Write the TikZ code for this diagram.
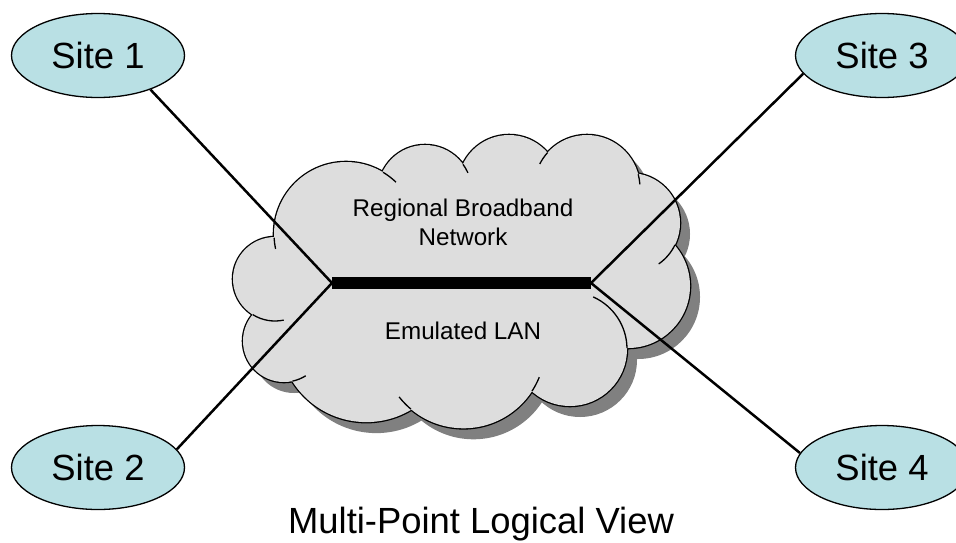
\documentclass[tikz,border=0pt]{standalone}
\usepackage{fontspec}
\setmainfont{Liberation Sans}
\usetikzlibrary{shapes.geometric}
\definecolor{cloudfill}{RGB}{221,221,221}
\definecolor{cloudshadow}{RGB}{128,128,128}
\definecolor{sitefill}{RGB}{185,224,228}
\begin{document}
\begin{tikzpicture}[x=0.5pt,y=-0.5pt,
  sitebox/.style={ellipse, draw=black, line width=0.65pt, fill=sitefill,
    minimum width=86.5pt, minimum height=42pt, inner sep=0pt,
    font=\fontsize{18.2}{22}\selectfont},
  link/.style={line width=1.25pt, black},
  lanbar/.style={line width=5.8pt, black},
  cloudtext/.style={inner sep=0pt, font=\fontsize{12.1}{14.6}\selectfont},
  tail/.style={line width=0.65pt, black}]
\useasboundingbox (0,0) rectangle (956,542);
\def\lobes{346/234/72, 425/192/47, 509/186/51, 587/188/53, 630/223/50, 628/286/62, 570/349/57, 463.5/346.6/81.7, 366.3/334.7/87.4, 284/341/41, 275/279/42}
\def\core{(346,234) -- (425,192) -- (509,186) -- (587,188) -- (630,223) -- (628,286) -- (570,349) -- (463.5,346.6) -- (366.3,334.7) -- (284,341) -- (275,279) -- cycle}
% shadow
\begin{scope}[shift={(10,11)}]
  \fill[cloudshadow] \foreach \cx/\cy/\r in \lobes {(\cx,\cy) circle[radius=\r]};
  \fill[cloudshadow] \core;
\end{scope}
% outline (outer half of a doubled stroke) and fill
\draw[line width=1.3pt, black] \foreach \cx/\cy/\r in \lobes {(\cx,\cy) circle[radius=\r]};
\fill[cloudfill] \foreach \cx/\cy/\r in \lobes {(\cx,\cy) circle[radius=\r]};
\fill[cloudfill] \core;
% inner tails of the lobes
\foreach \cx/\cy/\r/\a/\b in {346/234/72/177/168, 346/234/72/-59/-46, 425/192/47/-36/-24,
  587/188/53/-138/-153, 587/188/53/-15/-4, 630/223/50/26/55, 570/349/57/-1/-66,
  463.5/346.6/81.7/33/22, 463.5/346.6/81.7/130/142, 284/341/41/78/58, 275/279/42/122/78}
  \draw[tail] (\cx,\cy) ++(\a:\r) arc[start angle=\a, end angle=\b, radius=\r];
% cloud texts
\node[cloudtext, align=center] (rbn) at (463,222.5) {Regional Broadband\\Network};
\node[cloudtext, anchor=base] (elan) at (463,339) {Emulated LAN};
% sites
\node[sitebox] (s1) at (98,55.5) {Site 1};
\node[sitebox] (s2) at (98,467.5) {Site 2};
\node[sitebox] (s3) at (882,55.5) {Site 3};
\node[sitebox] (s4) at (882,467.5) {Site 4};
% emulated LAN bar and links
\coordinate (barL) at (332,283);
\coordinate (barR) at (591,283);
\draw[link] (s1.-33) -- (barL);
\draw[link] (s2.13.4) -- (barL);
\draw[link] (s3.193.4) -- (barR);
\draw[link] (s4.170.4) -- (barR);
\draw[lanbar] (barL) -- (barR);
% title
\node[anchor=base, inner sep=0pt, font=\fontsize{18.2}{22}\selectfont] (title) at (481,533) {Multi-Point Logical View};
\end{tikzpicture}
\end{document}
